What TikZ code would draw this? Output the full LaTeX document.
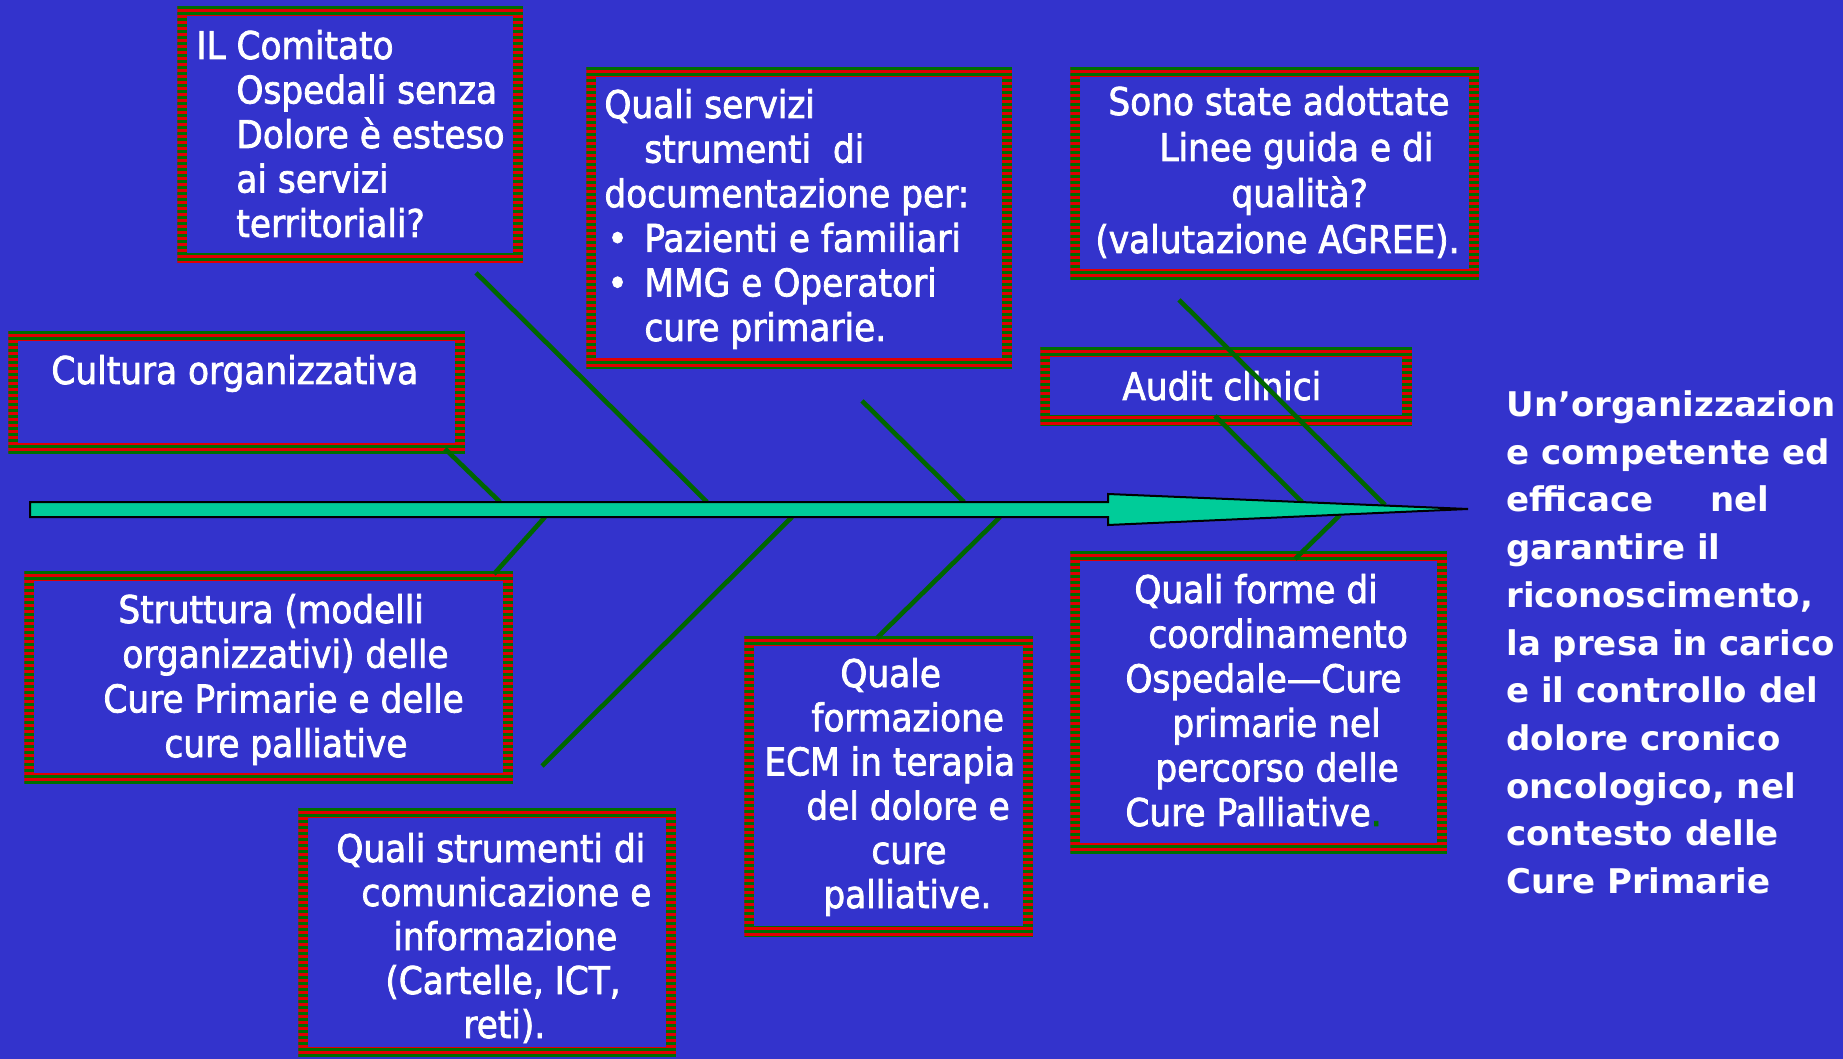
\documentclass[tikz,border=0pt]{standalone}
\usepackage{fontspec}
\newfontfamily\boxfont{DejaVu Sans Condensed}[FakeBold=2]
\newfontfamily\goalfont{DejaVu Sans}
\usetikzlibrary{calc}
\definecolor{bg}{RGB}{51,51,204}
\definecolor{bred}{RGB}{225,0,0}
\definecolor{bgreen}{RGB}{0,110,0}
\definecolor{spinefill}{RGB}{0,204,153}
\definecolor{bone}{RGB}{0,102,0}
\newcommand\tbk[2]{\vtop{\baselineskip=#1\relax #2}}
\tikzset{
  frame/.style={rectangle, inner sep=0pt, anchor=north west,
    path picture={
      \fill[bred] (path picture bounding box.south west) rectangle (path picture bounding box.north east);
      \foreach \k in {0,...,56}{
        \fill[bgreen] ([yshift={-\k*3pt}]path picture bounding box.north west) rectangle ([yshift={-\k*3pt-1.5pt}]path picture bounding box.north east);
      }
      \fill[bg] ([shift={(5pt,-5pt)}]path picture bounding box.north west) rectangle ([shift={(-5pt,5pt)}]path picture bounding box.south east);
    }},
  boxtext/.style={inner sep=0pt, anchor=base west, text=white, font=\boxfont\fontsize{19.1pt}{22.3pt}\selectfont},
  goaltext/.style={inner sep=0pt, anchor=base west, text=white, font=\goalfont\bfseries\fontsize{17pt}{23.85pt}\selectfont},
  bonestyle/.style={draw=bone, line width=2.3pt},
  spinestyle/.style={draw=black, line width=1pt, fill=spinefill, line join=miter},
}
\begin{document}
\begin{tikzpicture}[x=0.5pt, y=-0.5pt]
\useasboundingbox (0,0) rectangle (1843,1059);
\fill[bg] (0,0) rectangle (1843,1059);

% frames
\node[frame, minimum width=173pt, minimum height=128.5pt] (comitato) at (177,6) {};
\node[frame, minimum width=228.5pt, minimum height=61pt] (cultura) at (8,331) {};
\node[frame, minimum width=213pt, minimum height=150.5pt] (servizi) at (586,67) {};
\node[frame, minimum width=204.5pt, minimum height=106pt] (sono) at (1070,67) {};
\node[frame, minimum width=186pt, minimum height=39pt] (audit) at (1040,347) {};
\node[frame, minimum width=244.5pt, minimum height=106pt] (strutt) at (24,571) {};
\node[frame, minimum width=189pt, minimum height=124.5pt] (strum) at (298,808) {};
\node[frame, minimum width=144.5pt, minimum height=150pt] (formaz) at (744,636) {};
\node[frame, minimum width=188.5pt, minimum height=151pt] (forme) at (1070,551) {};

% texts
\node[boxtext] (tcomitato) at (196,59) {\tbk{22.25pt}{%
  \hbox{IL Comitato}
  \hbox{\hspace{20pt}Ospedali senza}
  \hbox{\hspace{20pt}Dolore è esteso}
  \hbox{\hspace{20pt}ai servizi}
  \hbox{\hspace{20pt}territoriali?}}};
\node[boxtext] (tcultura) at (51,384) {Cultura organizzativa};
\node[boxtext] (tservizi) at (604,118) {\tbk{22.3pt}{%
  \hbox{Quali servizi}
  \hbox{\hspace{20pt}strumenti\ \ di}
  \hbox{documentazione per:}
  \hbox{\makebox[20pt][l]{\hspace{1.5pt}•}Pazienti e familiari}
  \hbox{\makebox[20pt][l]{\hspace{1.5pt}•}MMG e Operatori}
  \hbox{\hspace{20pt}cure primarie.}}};
\node[boxtext] (tsono) at (1095,115) {\tbk{23pt}{%
  \hbox{\hspace{6.5pt}Sono state adottate}
  \hbox{\hspace{32pt}Linee guida e di}
  \hbox{\hspace{68pt}qualità?}
  \hbox{(valutazione AGREE).}}};
\node[boxtext] (taudit) at (1122,400) {Audit clinici};
\node[boxtext] (tstrutt) at (103,623) {\tbk{22.35pt}{%
  \hbox{\hspace{7.5pt}Struttura (modelli}
  \hbox{\hspace{9.5pt}organizzativi) delle}
  \hbox{Cure Primarie e delle}
  \hbox{\hspace{30.5pt}cure palliative}}};
\node[boxtext] (tstrum) at (336,862) {\tbk{22pt}{%
  \hbox{Quali strumenti di}
  \hbox{\hspace{12.5pt}comunicazione e}
  \hbox{\hspace{28.5pt}informazione}
  \hbox{\hspace{24.5pt}(Cartelle, ICT,}
  \hbox{\hspace{63.5pt}reti).}}};
\node[boxtext] (tformaz) at (764,687) {\tbk{22.1pt}{%
  \hbox{\hspace{38pt}Quale}
  \hbox{\hspace{23.5pt}formazione}
  \hbox{ECM in terapia}
  \hbox{\hspace{21pt}del dolore e}
  \hbox{\hspace{53.5pt}cure}
  \hbox{\hspace{29.5pt}palliative.}}};
\node[boxtext] (tforme) at (1125,603) {\tbk{22.3pt}{%
  \hbox{\hspace{4.5pt}Quali forme di}
  \hbox{\hspace{11.5pt}coordinamento}
  \hbox{Ospedale—Cure}
  \hbox{\hspace{23.5pt}primarie nel}
  \hbox{\hspace{15pt}percorso delle}
  \hbox{Cure Palliative\textcolor{bgreen}{.}}}};
\node[goaltext] (goal) at (1506,416.5) {\tbk{23.85pt}{%
  \hbox{Un’organizzazion}
  \hbox{e competente ed}
  \hbox{\makebox[102pt][l]{efficace}nel}
  \hbox{garantire il}
  \hbox{riconoscimento,}
  \hbox{la presa in carico}
  \hbox{e il controllo del}
  \hbox{dolore cronico}
  \hbox{oncologico, nel}
  \hbox{contesto delle}
  \hbox{Cure Primarie}}};

% points on the spine
\coordinate (s1) at (500,502);
\coordinate (s2) at (707,502);
\coordinate (s3) at (964,502);
\coordinate (s4) at (1385,505);
\coordinate (s5) at (1302,502);
\coordinate (s6) at (545,517);
\coordinate (s7) at (792,517);
\coordinate (s8) at (1000,517);
\coordinate (s9) at (1340,515);
\coordinate (e7) at (542,766);

% bones
\draw[bonestyle] ($(cultura.south west)+(437,-5)$) -- (s1);
\draw[bonestyle] ($(comitato.south west)+(299,9)$) -- (s2);
\draw[bonestyle] ($(servizi.south west)+(276,32)$) -- (s3);
\draw[bonestyle] ($(sono.south west)+(109,20)$) -- (s4);
\draw[bonestyle] ($(audit.south west)+(175,-10)$) -- (s5);
\draw[bonestyle] (s6) -- ($(strutt.north west)+(470,3)$);
\draw[bonestyle] (s7) -- (e7);
\draw[bonestyle] (s8) -- ($(formaz.north west)+(133,2)$);
\draw[bonestyle] (s9) -- ($(forme.north west)+(225,8)$);

% spine arrow
\path[spinestyle] (30,502) -- (1108,502) -- (1108,494) -- (1468,509) -- (1108,525) -- (1108,517) -- (30,517) -- cycle;
\end{tikzpicture}
\end{document}
